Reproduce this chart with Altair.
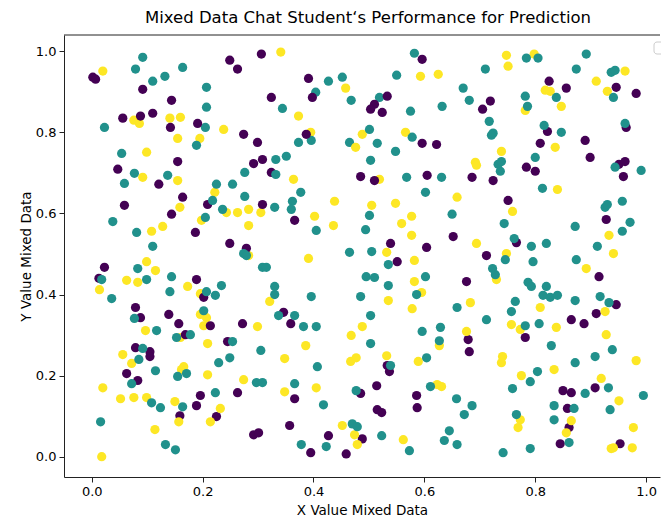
import altair as alt
import pandas as pd

# class 0 (purple)
purple_x = [0.002, 0.007, 0.092, 0.249, 0.263, 0.306, 0.144, 0.056, 0.088, 0.110, 0.142, 0.191, 0.274, 0.299,
            0.596, 0.391, 0.324, 0.398, 0.533, 0.510, 0.503, 0.524, 0.387, 0.596, 0.622, 0.825, 0.856, 0.946,
            0.982, 0.719, 0.705, 0.822, 0.964, 0.809, 0.890, 0.308, 0.047, 0.155, 0.121, 0.292, 0.164, 0.059,
            0.209, 0.308, 0.144, 0.187, 0.249, 0.279, 0.324, 0.485, 0.510, 0.605, 0.366, 0.652, 0.539, 0.604,
            0.899, 0.686, 0.724, 0.784, 0.800, 0.951, 0.962, 0.959, 0.751, 0.928, 0.766, 0.712, 0.023, 0.013,
            0.189, 0.202, 0.079, 0.088, 0.139, 0.157, 0.214, 0.272, 0.169, 0.245, 0.079, 0.105, 0.105, 0.551,
            0.346, 0.359, 0.533, 0.915, 0.676, 0.946, 0.910, 0.865, 0.888, 0.782, 0.679, 0.681, 0.063, 0.083,
            0.196, 0.189, 0.263, 0.159, 0.225, 0.292, 0.301, 0.537, 0.366, 0.485, 0.514, 0.515, 0.523, 0.586,
            0.587, 0.357, 0.427, 0.488, 0.395, 0.459, 0.850, 0.865, 0.908, 0.858, 0.861, 0.845, 0.953]
purple_y = [0.936, 0.931, 0.906, 0.978, 0.956, 0.993, 0.879, 0.835, 0.840, 0.847, 0.812, 0.822, 0.795, 0.775,
            0.980, 0.933, 0.886, 0.886, 0.889, 0.869, 0.857, 0.849, 0.795, 0.773, 0.770, 0.926, 0.909, 0.911,
            0.896, 0.877, 0.857, 0.802, 0.812, 0.773, 0.780, 0.733, 0.709, 0.728, 0.672, 0.723, 0.640, 0.620,
            0.622, 0.622, 0.598, 0.553, 0.526, 0.514, 0.701, 0.691, 0.681, 0.694, 0.583, 0.543, 0.526, 0.516,
            0.738, 0.689, 0.681, 0.714, 0.704, 0.721, 0.728, 0.691, 0.632, 0.585, 0.528, 0.496, 0.467, 0.440,
            0.437, 0.393, 0.368, 0.343, 0.351, 0.328, 0.323, 0.328, 0.301, 0.284, 0.269, 0.259, 0.247, 0.481,
            0.356, 0.328, 0.225, 0.444, 0.432, 0.375, 0.353, 0.338, 0.328, 0.294, 0.289, 0.259, 0.205, 0.188,
            0.151, 0.126, 0.158, 0.101, 0.099, 0.054, 0.059, 0.210, 0.143, 0.156, 0.175, 0.116, 0.109, 0.151,
            0.121, 0.077, 0.052, 0.044, 0.010, 0.007, 0.163, 0.158, 0.170, 0.119, 0.072, 0.032, 0.032]

# class 1 (teal)
teal_x = [0.092, 0.079, 0.164, 0.132, 0.110, 0.207, 0.207, 0.205, 0.023, 0.189, 0.582, 0.427, 0.452, 0.550,
          0.670, 0.404, 0.468, 0.519, 0.344, 0.575, 0.632, 0.396, 0.373, 0.501, 0.578, 0.465, 0.515, 0.784,
          0.805, 0.892, 0.710, 0.874, 0.937, 0.944, 0.941, 0.681, 0.782, 0.786, 0.838, 0.717, 0.724, 0.721,
          0.816, 0.847, 0.962, 0.054, 0.077, 0.059, 0.137, 0.276, 0.225, 0.254, 0.276, 0.218, 0.236, 0.205,
          0.038, 0.081, 0.110, 0.274, 0.548, 0.332, 0.351, 0.503, 0.332, 0.568, 0.631, 0.377, 0.602, 0.330,
          0.362, 0.360, 0.501, 0.650, 0.405, 0.494, 0.465, 0.505, 0.800, 0.733, 0.739, 0.737, 0.944, 0.991,
          0.813, 0.926, 0.930, 0.957, 0.744, 0.872, 0.971, 0.957, 0.762, 0.793, 0.820, 0.912, 0.018, 0.036,
          0.083, 0.099, 0.144, 0.141, 0.234, 0.207, 0.223, 0.279, 0.308, 0.077, 0.202, 0.117, 0.153, 0.178,
          0.254, 0.305, 0.092, 0.085, 0.249, 0.229, 0.535, 0.315, 0.495, 0.510, 0.535, 0.602, 0.330, 0.330,
          0.396, 0.485, 0.586, 0.659, 0.337, 0.366, 0.382, 0.405, 0.503, 0.596, 0.629, 0.627, 0.503, 0.539,
          0.604, 0.407, 0.746, 0.796, 0.874, 0.723, 0.728, 0.787, 0.793, 0.820, 0.814, 0.827, 0.840, 0.872,
          0.917, 0.933, 0.764, 0.757, 0.712, 0.782, 0.807, 0.829, 0.939, 0.908, 0.872, 0.072, 0.115, 0.155,
          0.171, 0.297, 0.308, 0.108, 0.124, 0.164, 0.223, 0.016, 0.133, 0.151, 0.366, 0.418, 0.477, 0.611,
          0.658, 0.672, 0.470, 0.479, 0.523, 0.378, 0.423, 0.573, 0.645, 0.636, 0.659, 0.804, 0.791, 0.759,
          0.890, 0.932, 0.995, 0.686, 0.834, 0.870, 0.935, 0.766, 0.834, 0.861, 0.791, 0.742]
teal_y = [0.985, 0.956, 0.960, 0.938, 0.926, 0.911, 0.862, 0.812, 0.812, 0.768, 0.995, 0.926, 0.936, 0.941,
          0.909, 0.899, 0.879, 0.886, 0.859, 0.852, 0.864, 0.780, 0.775, 0.807, 0.788, 0.775, 0.773, 0.983,
          0.983, 0.993, 0.956, 0.956, 0.948, 0.953, 0.886, 0.879, 0.889, 0.864, 0.886, 0.827, 0.798, 0.793,
          0.817, 0.800, 0.822, 0.748, 0.699, 0.674, 0.694, 0.701, 0.672, 0.672, 0.642, 0.632, 0.610, 0.590,
          0.580, 0.553, 0.519, 0.501, 0.753, 0.733, 0.741, 0.731, 0.696, 0.689, 0.689, 0.652, 0.652, 0.615,
          0.630, 0.610, 0.595, 0.598, 0.558, 0.560, 0.504, 0.506, 0.738, 0.721, 0.728, 0.704, 0.714, 0.706,
          0.662, 0.615, 0.622, 0.630, 0.575, 0.568, 0.578, 0.556, 0.538, 0.519, 0.526, 0.519, 0.437, 0.390,
          0.464, 0.437, 0.444, 0.407, 0.422, 0.407, 0.398, 0.496, 0.467, 0.341, 0.360, 0.311, 0.294, 0.301,
          0.284, 0.262, 0.267, 0.240, 0.244, 0.232, 0.474, 0.467, 0.444, 0.442, 0.422, 0.444, 0.420, 0.400,
          0.395, 0.395, 0.400, 0.368, 0.348, 0.348, 0.321, 0.321, 0.348, 0.309, 0.319, 0.286, 0.279, 0.225,
          0.244, 0.222, 0.486, 0.481, 0.486, 0.464, 0.449, 0.430, 0.420, 0.420, 0.398, 0.393, 0.398, 0.385,
          0.395, 0.380, 0.383, 0.358, 0.338, 0.323, 0.328, 0.274, 0.264, 0.247, 0.232, 0.180, 0.212, 0.198,
          0.205, 0.183, 0.183, 0.133, 0.121, 0.123, 0.158, 0.086, 0.030, 0.017, 0.180, 0.128, 0.163, 0.173,
          0.143, 0.104, 0.081, 0.074, 0.052, 0.030, 0.025, 0.015, 0.064, 0.040, 0.030, 0.210, 0.185, 0.168,
          0.156, 0.170, 0.151, 0.126, 0.126, 0.119, 0.116, 0.104, 0.091, 0.035, 0.020, 0.010]

# class 2 (yellow)
yellow_x = [0.020, 0.076, 0.086, 0.141, 0.160, 0.238, 0.155, 0.195, 0.341, 0.458, 0.593, 0.625, 0.373, 0.395,
            0.488, 0.566, 0.748, 0.798, 0.751, 0.962, 0.910, 0.818, 0.827, 0.930, 0.782, 0.847, 0.836, 0.099,
            0.092, 0.155, 0.222, 0.159, 0.243, 0.263, 0.283, 0.305, 0.198, 0.128, 0.108, 0.283, 0.283, 0.476,
            0.364, 0.519, 0.659, 0.438, 0.505, 0.548, 0.402, 0.577, 0.559, 0.436, 0.577, 0.532, 0.739, 0.692,
            0.694, 0.840, 0.759, 0.933, 0.694, 0.748, 0.941, 0.014, 0.099, 0.115, 0.063, 0.083, 0.173, 0.196,
            0.196, 0.207, 0.202, 0.299, 0.097, 0.160, 0.209, 0.056, 0.072, 0.166, 0.391, 0.582, 0.582, 0.321,
            0.535, 0.595, 0.578, 0.488, 0.468, 0.627, 0.386, 0.348, 0.477, 0.467, 0.532, 0.589, 0.676, 0.730,
            0.892, 0.683, 0.809, 0.926, 0.757, 0.773, 0.838, 0.928, 0.741, 0.739, 0.982, 0.162, 0.209, 0.274,
            0.020, 0.052, 0.076, 0.099, 0.150, 0.232, 0.157, 0.214, 0.114, 0.018, 0.348, 0.405, 0.623, 0.631,
            0.452, 0.474, 0.479, 0.562, 0.775, 0.834, 0.919, 0.951, 0.773, 0.769, 0.865, 0.856, 0.977, 0.941,
            0.937, 0.975]
yellow_y = [0.951, 0.830, 0.822, 0.835, 0.837, 0.807, 0.785, 0.785, 0.998, 0.909, 0.938, 0.943, 0.840, 0.800,
            0.795, 0.800, 0.990, 0.993, 0.963, 0.951, 0.926, 0.904, 0.901, 0.901, 0.854, 0.864, 0.763, 0.751,
            0.689, 0.681, 0.652, 0.615, 0.602, 0.602, 0.610, 0.602, 0.583, 0.568, 0.556, 0.570, 0.496, 0.763,
            0.684, 0.684, 0.640, 0.630, 0.620, 0.625, 0.593, 0.593, 0.575, 0.570, 0.546, 0.504, 0.753, 0.726,
            0.719, 0.659, 0.605, 0.546, 0.526, 0.501, 0.501, 0.412, 0.481, 0.459, 0.435, 0.430, 0.420, 0.402,
            0.351, 0.343, 0.323, 0.321, 0.311, 0.294, 0.279, 0.252, 0.230, 0.222, 0.489, 0.484, 0.432, 0.383,
            0.385, 0.405, 0.365, 0.321, 0.299, 0.274, 0.274, 0.242, 0.244, 0.235, 0.249, 0.235, 0.309, 0.437,
            0.464, 0.380, 0.368, 0.358, 0.326, 0.314, 0.319, 0.301, 0.247, 0.232, 0.237, 0.215, 0.202, 0.190,
            0.170, 0.143, 0.146, 0.146, 0.136, 0.119, 0.086, 0.086, 0.067, 0.000, 0.160, 0.170, 0.178, 0.173,
            0.077, 0.054, 0.030, 0.042, 0.200, 0.215, 0.193, 0.138, 0.091, 0.072, 0.089, 0.059, 0.072, 0.022,
            0.020, 0.022]

class_names = ["0", "1", "2"]
class_colors = ["#440154", "#21918c", "#fde725"]
x_ticks = [0.0, 0.2, 0.4, 0.6, 0.8, 1.0]
y_ticks = [0.0, 0.2, 0.4, 0.6, 0.8, 1.0]

groups = [(class_names[0], purple_x, purple_y),
          (class_names[1], teal_x, teal_y),
          (class_names[2], yellow_x, yellow_y)]
rows = []
n = max(len(g[1]) for g in groups)
for i in range(n):
    for name, xs, ys in groups:
        if i < len(xs):
            rows.append({"x": xs[i], "y": ys[i], "cls": name, "idx": len(rows)})
df = pd.DataFrame(rows)

W, H = 596, 442
FONT = "DejaVu Sans"

points = alt.Chart(df).mark_circle(size=85, opacity=1, strokeWidth=0).encode(
    x=alt.X("x:Q",
            scale=alt.Scale(domain=[-0.05, 1.025], nice=False, zero=False),
            axis=alt.Axis(values=x_ticks, format=".1f", title="X Value Mixed Data", grid=False,
                          titlePadding=5)),
    y=alt.Y("y:Q",
            scale=alt.Scale(domain=[-0.05, 1.04], nice=False, zero=False),
            axis=alt.Axis(values=y_ticks, format=".1f", title="Y Value Mixed Data", grid=False,
                          titlePadding=2)),
    color=alt.Color("cls:N", scale=alt.Scale(domain=class_names, range=class_colors), legend=None),
    order=alt.Order("idx:Q"),
)

top_spine = alt.Chart(pd.DataFrame({"a": [0]})).mark_rule(color="#222222", strokeWidth=1).encode(
    x=alt.value(0), x2=alt.value(W), y=alt.value(0)
)

legend_box = alt.Chart(pd.DataFrame({"a": [0]})).mark_rect(
    fill="white", stroke="#cccccc", strokeWidth=1, cornerRadius=3
).encode(x=alt.value(590), x2=alt.value(612), y=alt.value(7), y2=alt.value(19))

chart = alt.layer(points, top_spine, legend_box).properties(
    width=W, height=H,
    title=alt.TitleParams(
        text="Mixed Data Chat Student\u2018s Performance for Prediction",
        fontSize=16.5, font=FONT, fontWeight="normal", color="black",
        anchor="middle", offset=8, dx=6,
    ),
    autosize=alt.AutoSizeParams(type="none"),
    padding={"left": 64, "top": 35, "right": 1, "bottom": 42},
).configure_view(stroke=None).configure_axis(
    domainColor="#222222", tickColor="#222222", tickSize=5,
    labelFont=FONT, labelFontSize=13, labelColor="black", labelPadding=3,
    titleFont=FONT, titleFontSize=13.5, titleFontWeight="normal", titleColor="black",
)

chart.save("out.html", embed_options={"renderer": "svg", "actions": False})
